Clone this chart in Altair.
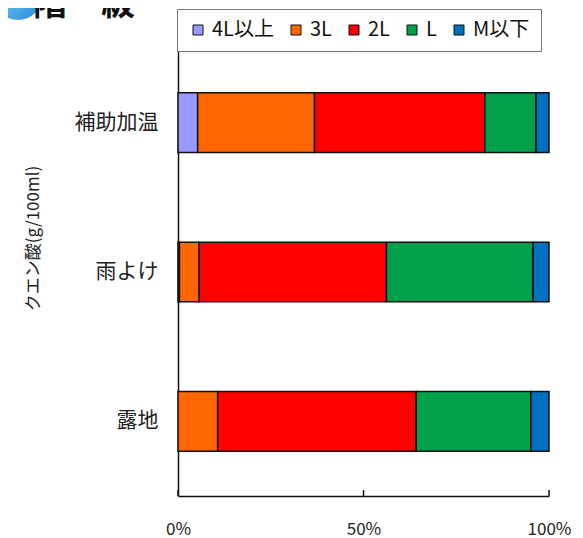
import altair as alt
import pandas as pd

categories = ["補助加温", "雨よけ", "露地"]
sizes = ["4L以上", "3L", "2L", "L", "M以下"]
colors = ["#9999FF", "#FF6600", "#FF0000", "#00A04A", "#0070C0"]

v_4l = [5.3, 0.4, 0.0]
v_3l = [31.5, 5.3, 10.7]
v_2l = [45.9, 50.5, 53.5]
v_l = [13.8, 39.5, 30.9]
v_m = [3.5, 4.3, 4.9]

tick_values = [0, 0.5, 1]
y_title = "クエン酸(g/100ml)"
heading = "階　級"

series = [v_4l, v_3l, v_2l, v_l, v_m]
rows = []
for si, (s, vals) in enumerate(zip(sizes, series)):
    for c, v in zip(categories, vals):
        if v > 0:
            rows.append({"cat": c, "size": s, "ord": si, "value": v})
df = pd.DataFrame(rows)

FONT = "Noto Sans CJK JP"
W, H = 371, 448

x_axis = alt.Axis(title=None, values=tick_values, format="%", grid=False,
                  tickSize=0, labelPadding=25, labelFontSize=17,
                  labelFlush=False, labelOverlap=False,
                  labelColor="#222222", domainColor="#111111",
                  domainWidth=1.5, labelFont=FONT)

bars = alt.Chart(df).mark_bar(stroke="#111111", strokeWidth=1.5).encode(
    x=alt.X("value:Q", stack="normalize",
            scale=alt.Scale(domain=[0, 1], nice=False),
            axis=x_axis),
    y=alt.Y("cat:N", sort=categories,
            scale=alt.Scale(paddingInner=0.6, paddingOuter=0.3),
            axis=alt.Axis(title=y_title, ticks=False, labelPadding=20,
                          labelFontSize=21, labelColor="#222222",
                          labelFont=FONT, domainColor="#111111", domainWidth=1.5,
                          titleFont=FONT, titleFontSize=17, titleFontWeight="normal",
                          titleColor="#222222", titleAngle=270, titleX=-145,
                          titleY=190, titleAlign="center", titleBaseline="middle")),
    color=alt.Color("size:N", scale=alt.Scale(domain=sizes, range=colors),
                    title=None,
                    legend=alt.Legend(orient="none", legendX=-1, legendY=-39,
                                      direction="horizontal", symbolType="square",
                                      symbolSize=100, symbolStrokeColor="#111111",
                                      symbolStrokeWidth=1, labelFontSize=20,
                                      labelFont=FONT, labelColor="#111111",
                                      labelOffset=4, columnPadding=12, padding=11,
                                      fillColor="white", strokeColor="#777777")),
    order=alt.Order("ord:Q"),
)

ticks = alt.Chart(pd.DataFrame({"value": tick_values})).mark_rule(
    color="#111111", strokeWidth=1.5
).encode(
    x=alt.X("value:Q", scale=alt.Scale(domain=[0, 1], nice=False), axis=x_axis),
    y=alt.value(H - 6),
    y2=alt.value(H),
)

blob = alt.Chart(pd.DataFrame({"d": [1]})).mark_point(
    shape="circle", filled=True, size=2304, opacity=1,
    fill=alt.Gradient(gradient="linear", x1=0, y1=0, x2=1, y2=1,
                      stops=[alt.GradientStop(offset=0, color="#9BE0F8"),
                             alt.GradientStop(offset=1, color="#1A8AD8")]),
).encode(x=alt.value(-160), y=alt.value(-52))

head = alt.Chart(pd.DataFrame({"t": [heading]})).mark_text(
    align="left", baseline="alphabetic", fontSize=34, fontWeight="bold",
    font=FONT, color="#111111"
).encode(x=alt.value(-145), y=alt.value(-33), text="t:N")

chart = alt.layer(bars, ticks, blob, head).properties(
    width=W, height=H,
    autosize=alt.AutoSizeParams(type="none"),
    padding={"left": 170, "top": 40, "right": 26, "bottom": 42},
).configure_view(stroke=None)

chart.save("out.html", embed_options={"renderer": "svg", "actions": False})
